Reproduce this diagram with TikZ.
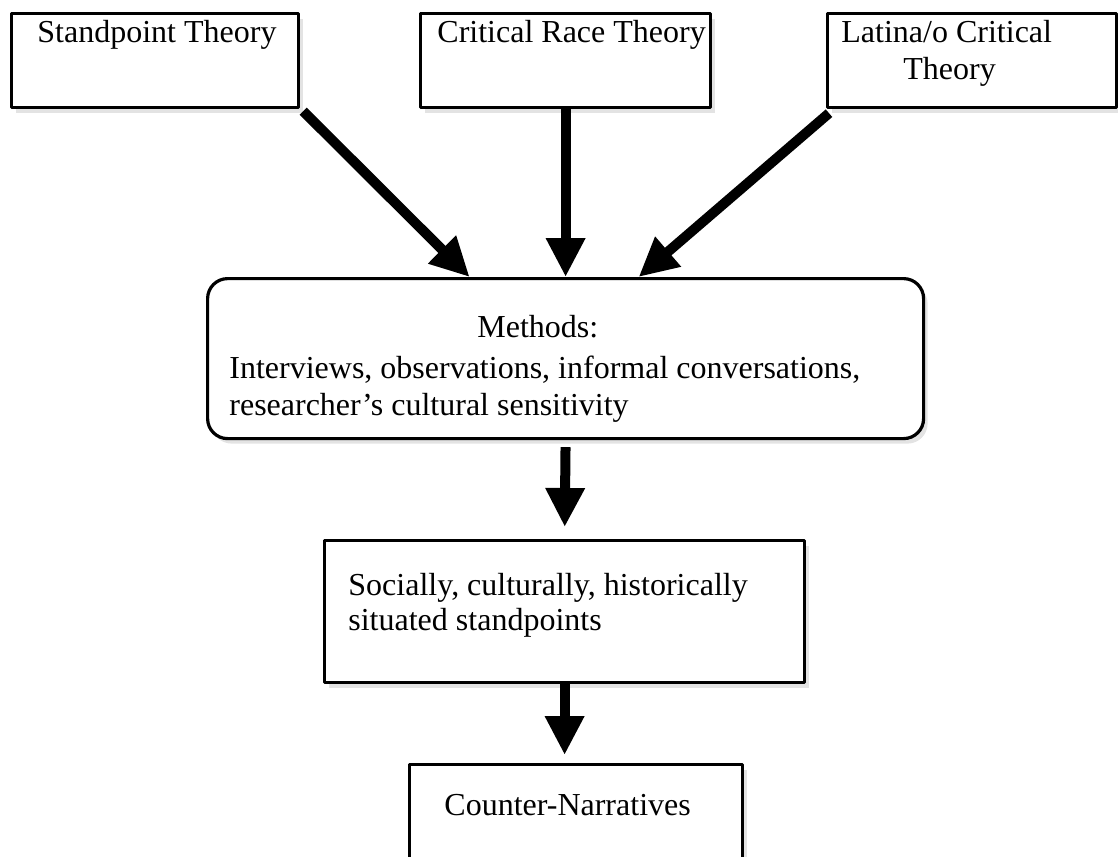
\documentclass[tikz,border=0pt]{standalone}
\usepackage{fontspec}
\setmainfont{Liberation Serif}
\usetikzlibrary{arrows.meta,shadows}
\begin{document}
\begin{tikzpicture}[x=0.5pt, y=-0.5pt, font=\fontsize{16pt}{18.5pt}\selectfont, line join=round,
	box/.style={draw, line width=1.6pt, fill=white, anchor=north west, inner sep=0pt,
		drop shadow={shadow xshift=2pt, shadow yshift=-2.5pt, fill=black!22}},
	txt/.style={anchor=base west, inner sep=0pt},
	arr/.style={-{Triangle[width=18.5pt,length=19.5pt]}, line width=5pt}]
	\useasboundingbox (0,0) rectangle (1118,856);
	% boxes
	\node[box, minimum width=143.5pt, minimum height=47pt] (stand) at (10,12) {};
	\node[box, minimum width=145pt, minimum height=47pt] (crit) at (419,12) {};
	\node[box, minimum width=144.5pt, minimum height=47pt] (lat) at (826,12) {};
	\node[box, rounded corners=10pt, minimum width=358pt, minimum height=80pt] (meth) at (206,277) {};
	\node[box, minimum width=240pt, minimum height=71pt] (soc) at (323,539) {};
	\node[box, minimum width=166.5pt, minimum height=47.5pt] (count) at (408,763) {};
	% texts
	\node[txt] (standT) at (37,43) {Standpoint Theory};
	\node[txt] (critT) at (437,43) {Critical Race Theory};
	\node[txt] (latT) at (841,43) {Latina/o Critical};
	\node[txt] (latT2) at (903,80) {Theory};
	\node[txt] (methT) at (477,337) {Methods:};
	\node[txt] (methT2) at (229,378) {Interviews, observations, informal conversations,};
	\node[txt] (methT3) at (229,415) {researcher’s cultural sensitivity};
	\node[txt] (socT) at (348,595) {Socially, culturally, historically};
	\node[txt] (socT2) at (348,630) {situated standpoints};
	\node[txt] (countT) at (444,815) {Counter-Narratives};
	% arrows
	\draw[arr] ([shift={(1.5pt,-1pt)}]stand.south east) -- ([xshift=-48pt]meth.north);
	\draw[arr] (crit.south) -- (meth.north);
	\draw[arr] ([shift={(1.5pt,-2pt)}]lat.south west) -- ([xshift=36.5pt]meth.north);
	\draw[arr, shorten <=3.5pt, shorten >=6pt] (meth.south) -- (soc.north);
	\draw[arr, shorten >=4pt] (soc.south) -- (soc.south |- count.north);
\end{tikzpicture}
\end{document}
